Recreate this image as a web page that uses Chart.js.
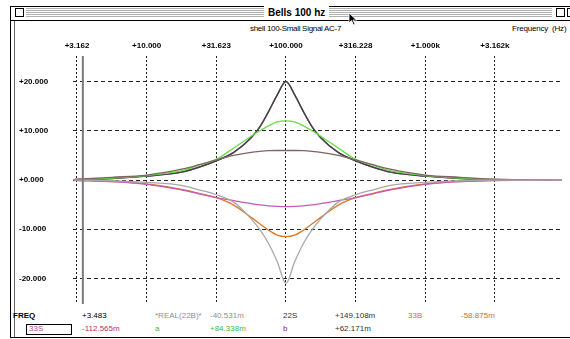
<!DOCTYPE html>
<html>
<head>
<meta charset="utf-8">
<script src="https://cdn.jsdelivr.net/npm/chart.js@4.4.1/dist/chart.umd.min.js"></script>
<style>
  html, body { margin: 0; padding: 0; background: #fff; }
  body { width: 570px; height: 339px; position: relative; overflow: hidden; font-family: "Liberation Sans", Arial, sans-serif; }
  .frame { position: absolute; left: 10px; top: 6px; width: 600px; height: 332px; border: 1px solid #000; box-sizing: border-box; }
  .innerline { position: absolute; left: 14px; top: 21px; width: 1px; height: 316px; background: #666; }
  .titlebar { position: absolute; left: 10px; top: 6px; width: 600px; height: 15px; border: 1px solid #000; box-sizing: border-box; background: #fff; }
  .stripes { position: absolute; left: 26px; top: 8px; width: 526px; height: 10px; background: repeating-linear-gradient(to bottom, #b0b0b0 0 1px, #fff 1px 2px); }
  .box { position: absolute; top: 8px; width: 9px; height: 9px; border: 1px solid #000; background: #fff; box-sizing: border-box; }
  .wtitle { position: absolute; top: 6px; left: 264px; padding: 0 4px; background: #fff; font-size: 10px; font-weight: bold; line-height: 14px; }
  .t { position: absolute; font-size: 8px; line-height: 10px; white-space: nowrap; }
  canvas { position: absolute; left: 0; top: 0; }
</style>
</head>
<body>
<div class="frame"></div>
<div class="titlebar"></div>
<div class="stripes"></div>
<div class="box" style="left:15px"></div>
<div class="box" style="left:556px"></div>
<div class="box" style="left:567px"></div>
<div class="wtitle">Bells 100 hz</div>
<div class="innerline"></div>

<div class="t" style="left:250px; top:24px; letter-spacing:-0.3px">shell 100-Small Signal AC-7</div>
<div class="t" style="left:512px; top:24px; letter-spacing:-0.2px">Frequency &nbsp;(Hz)</div>

<div class="t" style="left:13px; top:311px; font-weight:bold">FREQ</div>
<div class="t" style="left:82px; top:311px">+3.483</div>
<div class="t" style="left:155px; top:311px; color:#909090">*REAL(22B)*</div>
<div class="t" style="left:210px; top:311px; color:#909090">-40.531m</div>
<div class="t" style="left:283px; top:311px; color:#333">22S</div>
<div class="t" style="left:335px; top:311px; color:#333">+149.108m</div>
<div class="t" style="left:408px; top:311px; color:#d86a18">33B</div>
<div class="t" style="left:461px; top:311px; color:#d86a18">-58.875m</div>

<div class="t" style="left:26px; top:324px; width:46px; height:11px; border:1px solid #000; box-sizing:border-box"></div>
<div class="t" style="left:29px; top:324px; color:#c04a90">33S</div>
<div class="t" style="left:82px; top:324px; color:#c03050">-112.565m</div>
<div class="t" style="left:155px; top:324px; color:#44bb33">a</div>
<div class="t" style="left:210px; top:324px; color:#44bb33">+84.338m</div>
<div class="t" style="left:283px; top:324px; color:#802a88">b</div>
<div class="t" style="left:335px; top:324px; color:#333">+62.171m</div>

<svg style="position:absolute; left:348px; top:12px" width="10" height="14" viewBox="0 0 10 14">
  <path d="M1 1 L1 11 L3.5 8.5 L5.5 13 L7 12.3 L5 8 L8.5 8 Z" fill="#000" stroke="#fff" stroke-width="0.8"/>
</svg>

<canvas id="bellsChart" width="570" height="339"></canvas>

<script>
const freqs = [3.0, 3.162, 5.623, 10, 17.78, 23.71, 31.62, 42.17, 56.23, 64.94, 74.99, 86.6, 100,
    115.5, 133.4, 154.0, 177.8, 237.1, 316.2, 421.7, 562.3, 1000, 1778, 3162, 9580];

// response in dB for each trace
const real22B = [-0.03, -0.04, -0.15, -0.5, -1.1, -2.0, -3.0, -4.5, -7.9, -10.1, -12.9, -16.6, -21.0,
    -16.6, -12.9, -10.1, -7.9, -4.5, -3.0, -2.0, -1.1, -0.5, -0.15, -0.04, 0];
const s33S = [-0.1, -0.12, -0.35, -0.9, -2.0, -2.8, -3.6, -4.2, -4.8, -5.05, -5.25, -5.35, -5.4,
    -5.35, -5.25, -5.05, -4.8, -4.2, -3.6, -2.8, -2.0, -0.9, -0.35, -0.12, 0];
const b33B = [-0.05, -0.06, -0.3, -0.8, -1.9, -2.7, -3.6, -5.1, -7.6, -8.9, -10.2, -11.2, -11.5,
    -11.2, -10.2, -8.9, -7.6, -5.1, -3.6, -2.7, -1.9, -0.8, -0.3, -0.06, 0];
const s22S = [0.12, 0.15, 0.55, 1.0, 2.2, 3.1, 4.1, 5.0, 5.6, 5.8, 5.95, 6.0, 6.0,
    6.0, 5.95, 5.8, 5.6, 5.0, 4.1, 3.1, 2.2, 1.0, 0.55, 0.15, 0];
const traceA = [0.08, 0.1, 0.4, 0.9, 1.9, 3.0, 4.2, 6.5, 8.9, 10.0, 11.0, 11.8, 12.0,
    11.8, 11.0, 10.0, 8.9, 6.5, 4.2, 3.0, 1.9, 0.9, 0.4, 0.1, 0];
const traceB = [0.05, 0.06, 0.3, 0.8, 1.6, 2.6, 3.9, 5.6, 8.6, 10.8, 13.9, 17.3, 20.0,
    17.3, 13.9, 10.8, 8.6, 5.6, 3.9, 2.6, 1.6, 0.8, 0.3, 0.06, 0];

const xTickValues = [3.162, 10, 31.623, 100, 316.228, 1000, 3162];
const xTickLabels = ['+3.162', '+10.000', '+31.623', '+100.000', '+316.228', '+1.000k', '+3.162k'];
const yTickValues = [-20, -10, 0, 10, 20];
const yTickLabels = ['-20.000', '-10.000', '+0.000', '+10.000', '+20.000'];
const cursorFreq = 3.483;

const FONT = '"Liberation Sans", Arial, sans-serif';

function toPoints(ys) {
    return freqs.map((f, i) => ({ x: f, y: ys[i] }));
}

function trace(data, color, width) {
    return {
        data: toPoints(data),
        borderColor: color,
        borderWidth: width,
        showLine: true,
        pointRadius: 0,
        cubicInterpolationMode: 'monotone'
    };
}

const ctx = document.getElementById('bellsChart').getContext('2d');
new Chart(ctx, {
    type: 'scatter',
    data: {
        datasets: [
            {
                data: [{ x: cursorFreq, y: -25.2 }, { x: cursorFreq, y: 25.2 }],
                borderColor: '#7a7a7a',
                borderWidth: 2,
                showLine: true,
                pointRadius: 0
            },
            trace(real22B, '#a8a8a8', 1.3),
            trace(s33S, '#c858b8', 1.3),
            trace(b33B, '#e07828', 1.3),
            trace(s22S, '#806462', 1.3),
            trace(traceA, '#66dd44', 1.3),
            trace(traceB, '#444', 1.5),
            trace(traceB, '#a850b8', 1.3)
        ]
    },
    options: {
        responsive: false,
        animation: false,
        layout: { padding: { left: 19, right: 8, top: 0, bottom: 35 } },
        plugins: { legend: { display: false }, tooltip: { enabled: false } },
        scales: {
            x: {
                type: 'logarithmic',
                position: 'top',
                min: 2.96,
                max: 9580,
                afterBuildTicks: scale => { scale.ticks = xTickValues.map(v => ({ value: v })); },
                afterFit: scale => { scale.height = 56; },
                ticks: {
                    autoSkip: false,
                    maxRotation: 0,
                    padding: 5,
                    color: '#000',
                    font: { family: FONT, size: 8, weight: 'bold' },
                    callback: (v, i) => xTickLabels[i]
                },
                grid: { color: '#222', lineWidth: 1, drawTicks: false },
                border: { display: false, dash: [2, 2] }
            },
            y: {
                min: -25.2,
                max: 25.2,
                afterBuildTicks: scale => { scale.ticks = yTickValues.map(v => ({ value: v })); },
                afterFit: scale => { scale.width = 54; },
                ticks: {
                    crossAlign: 'far',
                    color: '#000',
                    font: { family: FONT, size: 8, weight: 'bold' },
                    callback: (v, i) => yTickLabels[i]
                },
                grid: { color: '#222', lineWidth: 1, drawTicks: false },
                border: { display: false, dash: [4, 3] }
            }
        }
    }
});
</script>
</body>
</html>
